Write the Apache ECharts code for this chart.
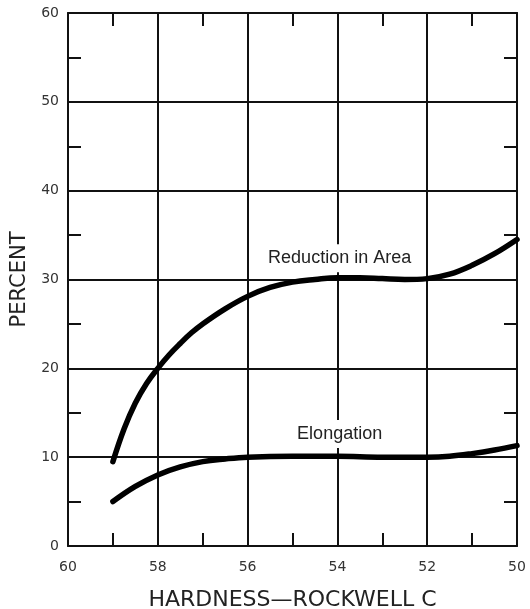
<!DOCTYPE html>
<html lang="en">

<head>
    <meta charset="UTF-8">
    <title>Percent vs Hardness</title>
    <script src="https://cdn.jsdelivr.net/npm/echarts@6/dist/echarts.min.js"></script>
    <style>
        * {
            margin: 0;
            padding: 0;
        }

        #main {
            width: 530px;
            height: 609px;
            background: #fff;
        }
    </style>
</head>

<body>
    <div id="main"></div>
    <script>
        // values
        const seriesNames = ['Reduction in Area', 'Elongation'];
        const reductionX = [59, 58.75, 58.5, 58.25, 58, 57.75, 57.5, 57.25, 57, 56.5, 56, 55.5, 55, 54.5, 54, 53.5, 53, 52.5, 52, 51.5, 51, 50.5, 50];
        const reductionY = [9.5, 13.2, 16.1, 18.3, 20.0, 21.5, 22.8, 24.0, 25.0, 26.7, 28.1, 29.1, 29.7, 30.0, 30.2, 30.2, 30.1, 30.0, 30.1, 30.6, 31.6, 32.9, 34.5];
        const elongationX = [59, 58.5, 58, 57.5, 57, 56.5, 56, 55, 54, 53, 52, 51.5, 51, 50.5, 50];
        const elongationY = [5.0, 6.7, 8.0, 8.9, 9.5, 9.8, 10.0, 10.1, 10.1, 10.0, 10.0, 10.1, 10.4, 10.8, 11.3];
        const labelAt = [[53.95, 32.4], [53.95, 12.6]];
        const xTicks = [50, 52, 54, 56, 58, 60];
        const yTicks = [0, 10, 20, 30, 40, 50, 60];

        const ink = '#111';
        const lineW = 2;

        function pairs(xs, ys) {
            return xs.map(function (x, i) { return [x, ys[i]]; });
        }

        function xAxisCfg(pos, labels) {
            return {
                type: 'value',
                position: pos,
                inverse: true,
                min: xTicks[0], max: xTicks[xTicks.length - 1], interval: 2,
                axisLine: { show: true, onZero: false, lineStyle: { color: ink, width: lineW } },
                axisTick: { show: false, inside: true },
                minorTick: { show: true, splitNumber: 2, length: 13, lineStyle: { color: ink, width: lineW } },
                splitLine: { show: labels, lineStyle: { color: ink, width: lineW } },
                axisLabel: { show: labels, margin: 14, color: '#333', fontSize: 14, fontFamily: 'DejaVu Sans' },
                name: labels ? 'HARDNESS\u2014ROCKWELL C' : '',
                nameLocation: 'middle',
                nameGap: 43,
                nameTextStyle: { color: '#222', fontSize: 22, fontFamily: 'DejaVu Sans' }
            };
        }

        function yAxisCfg(pos, labels) {
            return {
                type: 'value',
                position: pos,
                min: yTicks[0], max: yTicks[yTicks.length - 1], interval: 10,
                axisLine: { show: true, onZero: false, lineStyle: { color: ink, width: lineW } },
                axisTick: { show: false, inside: true },
                minorTick: { show: true, splitNumber: 2, length: 13, lineStyle: { color: ink, width: lineW } },
                splitLine: { show: labels, lineStyle: { color: ink, width: lineW } },
                axisLabel: { show: labels, margin: 9, color: '#333', fontSize: 14, fontFamily: 'DejaVu Sans' },
                name: labels ? 'PERCENT' : '',
                nameLocation: 'middle',
                nameGap: 38,
                nameTextStyle: { color: '#222', fontSize: 21, fontFamily: 'DejaVu Sans' }
            };
        }

        function curve(name, data, at) {
            return {
                name: name,
                type: 'line',
                smooth: 0.4,
                showSymbol: false,
                xAxisIndex: 0,
                yAxisIndex: 0,
                lineStyle: { color: '#000', width: 5.5, cap: 'round' },
                data: data,
                markPoint: {
                    symbol: 'rect',
                    symbolSize: 0,
                    data: [{ coord: at }],
                    label: {
                        show: true,
                        position: 'inside',
                        formatter: name,
                        color: '#222',
                        fontSize: 18,
                        fontFamily: 'Liberation Sans',
                        backgroundColor: '#fff',
                        padding: [5, 2]
                    }
                }
            };
        }

        var chartDom = document.getElementById('main');
        var myChart = echarts.init(chartDom);

        option = {
            backgroundColor: '#fff',
            animation: false,
            grid: { left: 68, right: 13, top: 13, bottom: 63, outerBoundsMode: 'none' },
            xAxis: [xAxisCfg('bottom', true), xAxisCfg('top', false)],
            yAxis: [yAxisCfg('left', true), yAxisCfg('right', false)],
            series: [
                curve(seriesNames[0], pairs(reductionX, reductionY), labelAt[0]),
                curve(seriesNames[1], pairs(elongationX, elongationY), labelAt[1])
            ]
        };
        myChart.setOption(option);
    </script>
</body>

</html>
